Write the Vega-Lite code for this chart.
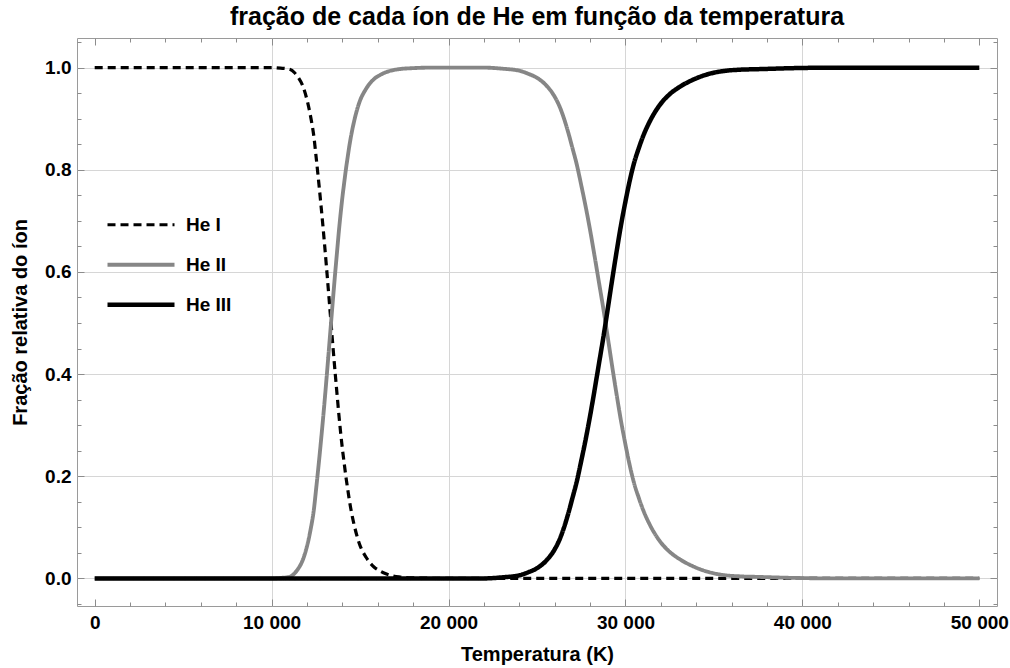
{
  "$schema": "https://vega.github.io/schema/vega-lite/v6.json",
  "width": 920,
  "height": 568,
  "autosize": {"type": "none"},
  "padding": {"left": 77, "top": 38, "right": 13, "bottom": 62},
  "background": "white",
  "title": {"text": "fração de cada íon de He em função da temperatura", "font": "Liberation Sans", "fontSize": 25, "fontWeight": "bold", "color": "black", "anchor": "middle", "offset": 8},
  "config": {"view": {"stroke": "#9a9a9a", "strokeWidth": 1}, "font": "Liberation Sans"},
  "data": {"values": [
    {"ion":"He I","T":0,"f":1},{"ion":"He I","T":2000,"f":1},{"ion":"He I","T":4000,"f":1},{"ion":"He I","T":6000,"f":1},{"ion":"He I","T":8000,"f":1},{"ion":"He I","T":10000,"f":1},{"ion":"He I","T":10500,"f":0.999},{"ion":"He I","T":11000,"f":0.997},{"ion":"He I","T":11300,"f":0.99},{"ion":"He I","T":11500,"f":0.981},{"ion":"He I","T":11750,"f":0.965},{"ion":"He I","T":12000,"f":0.937},{"ion":"He I","T":12200,"f":0.905},{"ion":"He I","T":12400,"f":0.862},{"ion":"He I","T":12500,"f":0.83},{"ion":"He I","T":12600,"f":0.797},{"ion":"He I","T":12700,"f":0.763},{"ion":"He I","T":12800,"f":0.727},{"ion":"He I","T":12900,"f":0.69},{"ion":"He I","T":13000,"f":0.651},{"ion":"He I","T":13100,"f":0.61},{"ion":"He I","T":13200,"f":0.568},{"ion":"He I","T":13300,"f":0.525},{"ion":"He I","T":13400,"f":0.482},{"ion":"He I","T":13500,"f":0.44},{"ion":"He I","T":13600,"f":0.399},{"ion":"He I","T":13700,"f":0.36},{"ion":"He I","T":13800,"f":0.321},{"ion":"He I","T":13900,"f":0.286},{"ion":"He I","T":14000,"f":0.254},{"ion":"He I","T":14100,"f":0.226},{"ion":"He I","T":14200,"f":0.199},{"ion":"He I","T":14300,"f":0.175},{"ion":"He I","T":14400,"f":0.152},{"ion":"He I","T":14500,"f":0.132},{"ion":"He I","T":14670,"f":0.104},{"ion":"He I","T":14950,"f":0.069},{"ion":"He I","T":15330,"f":0.042},{"ion":"He I","T":15800,"f":0.022},{"ion":"He I","T":16100,"f":0.015},{"ion":"He I","T":16460,"f":0.009},{"ion":"He I","T":17200,"f":0.003},{"ion":"He I","T":18000,"f":0.001},{"ion":"He I","T":19000,"f":0.0003},{"ion":"He I","T":20000,"f":0},{"ion":"He I","T":25000,"f":0},{"ion":"He I","T":30000,"f":0},{"ion":"He I","T":35000,"f":0},{"ion":"He I","T":40000,"f":0},{"ion":"He I","T":45000,"f":0},{"ion":"He I","T":50000,"f":0},
    {"ion":"He II","T":0,"f":0},{"ion":"He II","T":5000,"f":0},{"ion":"He II","T":10000,"f":0},{"ion":"He II","T":10500,"f":0.001},{"ion":"He II","T":11000,"f":0.003},{"ion":"He II","T":11300,"f":0.01},{"ion":"He II","T":11500,"f":0.019},{"ion":"He II","T":11750,"f":0.035},{"ion":"He II","T":12000,"f":0.063},{"ion":"He II","T":12200,"f":0.095},{"ion":"He II","T":12400,"f":0.138},{"ion":"He II","T":12500,"f":0.17},{"ion":"He II","T":12600,"f":0.203},{"ion":"He II","T":12700,"f":0.237},{"ion":"He II","T":12800,"f":0.273},{"ion":"He II","T":12900,"f":0.31},{"ion":"He II","T":13000,"f":0.349},{"ion":"He II","T":13100,"f":0.39},{"ion":"He II","T":13200,"f":0.432},{"ion":"He II","T":13300,"f":0.475},{"ion":"He II","T":13400,"f":0.518},{"ion":"He II","T":13500,"f":0.56},{"ion":"He II","T":13600,"f":0.601},{"ion":"He II","T":13700,"f":0.64},{"ion":"He II","T":13800,"f":0.679},{"ion":"He II","T":13900,"f":0.714},{"ion":"He II","T":14000,"f":0.746},{"ion":"He II","T":14100,"f":0.774},{"ion":"He II","T":14200,"f":0.801},{"ion":"He II","T":14300,"f":0.825},{"ion":"He II","T":14400,"f":0.848},{"ion":"He II","T":14500,"f":0.868},{"ion":"He II","T":14670,"f":0.896},{"ion":"He II","T":14950,"f":0.931},{"ion":"He II","T":15330,"f":0.958},{"ion":"He II","T":15800,"f":0.978},{"ion":"He II","T":16100,"f":0.985},{"ion":"He II","T":16460,"f":0.991},{"ion":"He II","T":17200,"f":0.997},{"ion":"He II","T":18000,"f":0.999},{"ion":"He II","T":19000,"f":1},{"ion":"He II","T":20000,"f":1},{"ion":"He II","T":21000,"f":1},{"ion":"He II","T":22000,"f":1},{"ion":"He II","T":23000,"f":0.998},{"ion":"He II","T":24000,"f":0.994},{"ion":"He II","T":24500,"f":0.988},{"ion":"He II","T":25000,"f":0.98},{"ion":"He II","T":25500,"f":0.966},{"ion":"He II","T":26000,"f":0.943},{"ion":"He II","T":26250,"f":0.926},{"ion":"He II","T":26500,"f":0.903},{"ion":"He II","T":26750,"f":0.875},{"ion":"He II","T":27000,"f":0.843},{"ion":"He II","T":27250,"f":0.81},{"ion":"He II","T":27500,"f":0.77},{"ion":"He II","T":27750,"f":0.728},{"ion":"He II","T":28000,"f":0.682},{"ion":"He II","T":28250,"f":0.632},{"ion":"He II","T":28500,"f":0.58},{"ion":"He II","T":28750,"f":0.528},{"ion":"He II","T":29000,"f":0.472},{"ion":"He II","T":29250,"f":0.415},{"ion":"He II","T":29500,"f":0.36},{"ion":"He II","T":29750,"f":0.308},{"ion":"He II","T":30000,"f":0.262},{"ion":"He II","T":30250,"f":0.22},{"ion":"He II","T":30500,"f":0.185},{"ion":"He II","T":30750,"f":0.158},{"ion":"He II","T":31000,"f":0.134},{"ion":"He II","T":31350,"f":0.107},{"ion":"He II","T":31900,"f":0.075},{"ion":"He II","T":32500,"f":0.052},{"ion":"He II","T":33050,"f":0.038},{"ion":"He II","T":33800,"f":0.024},{"ion":"He II","T":34750,"f":0.012},{"ion":"He II","T":35700,"f":0.006},{"ion":"He II","T":36500,"f":0.004},{"ion":"He II","T":37500,"f":0.003},{"ion":"He II","T":39500,"f":0.001},{"ion":"He II","T":42000,"f":0},{"ion":"He II","T":46000,"f":0},{"ion":"He II","T":50000,"f":0},
    {"ion":"He III","T":0,"f":0},{"ion":"He III","T":5000,"f":0},{"ion":"He III","T":10000,"f":0},{"ion":"He III","T":15000,"f":0},{"ion":"He III","T":20000,"f":0},{"ion":"He III","T":22000,"f":0},{"ion":"He III","T":23000,"f":0.002},{"ion":"He III","T":24000,"f":0.006},{"ion":"He III","T":24500,"f":0.012},{"ion":"He III","T":25000,"f":0.02},{"ion":"He III","T":25500,"f":0.034},{"ion":"He III","T":26000,"f":0.057},{"ion":"He III","T":26250,"f":0.074},{"ion":"He III","T":26500,"f":0.097},{"ion":"He III","T":26750,"f":0.125},{"ion":"He III","T":27000,"f":0.157},{"ion":"He III","T":27250,"f":0.19},{"ion":"He III","T":27500,"f":0.23},{"ion":"He III","T":27750,"f":0.272},{"ion":"He III","T":28000,"f":0.318},{"ion":"He III","T":28250,"f":0.368},{"ion":"He III","T":28500,"f":0.42},{"ion":"He III","T":28750,"f":0.472},{"ion":"He III","T":29000,"f":0.528},{"ion":"He III","T":29250,"f":0.585},{"ion":"He III","T":29500,"f":0.64},{"ion":"He III","T":29750,"f":0.692},{"ion":"He III","T":30000,"f":0.738},{"ion":"He III","T":30250,"f":0.78},{"ion":"He III","T":30500,"f":0.815},{"ion":"He III","T":30750,"f":0.842},{"ion":"He III","T":31000,"f":0.866},{"ion":"He III","T":31350,"f":0.893},{"ion":"He III","T":31900,"f":0.925},{"ion":"He III","T":32500,"f":0.948},{"ion":"He III","T":33050,"f":0.962},{"ion":"He III","T":33800,"f":0.976},{"ion":"He III","T":34750,"f":0.988},{"ion":"He III","T":35700,"f":0.994},{"ion":"He III","T":36500,"f":0.996},{"ion":"He III","T":37500,"f":0.997},{"ion":"He III","T":39500,"f":0.999},{"ion":"He III","T":42000,"f":1},{"ion":"He III","T":46000,"f":1},{"ion":"He III","T":50000,"f":1}
  ]},
  "layer": [
    {
      "mark": {"type": "point", "opacity": 0},
      "encoding": {
        "x": {"field": "T", "type": "quantitative", "scale": {"domain": [-1000, 51000], "nice": false, "zero": false},
          "axis": {"orient": "bottom", "values": [10000, 20000, 30000, 40000], "grid": true, "gridColor": "#d6d6d6", "gridWidth": 1, "ticks": false, "labels": false, "domain": false, "title": null}},
        "y": {"field": "f", "type": "quantitative", "scale": {"domain": [-0.054, 1.058], "nice": false, "zero": false},
          "axis": {"orient": "left", "values": [0, 0.2, 0.4, 0.6, 0.8, 1.0], "grid": true, "gridColor": "#d6d6d6", "gridWidth": 1, "ticks": false, "labels": false, "domain": false, "title": null}}
      }
    },
    {
      "mark": {"type": "line", "interpolate": "monotone"},
      "encoding": {
        "x": {"field": "T", "type": "quantitative", "scale": {"domain": [-1000, 51000], "nice": false, "zero": false},
          "axis": {"orient": "bottom", "values": [0, 10000, 20000, 30000, 40000, 50000], "grid": false, "domain": false, "tickColor": "#8c8c8c", "tickSize": -7, "labelExpr": "replace(format(datum.value, ','), ',', ' ')", "labelFont": "Liberation Sans", "labelFontSize": 19, "labelFontWeight": "bold", "labelColor": "black", "labelPadding": 14, "title": "Temperatura (K)", "titleFont": "Liberation Sans", "titleFontSize": 20, "titleFontWeight": "bold", "titleColor": "black", "titlePadding": 12}},
        "y": {"field": "f", "type": "quantitative", "scale": {"domain": [-0.054, 1.058], "nice": false, "zero": false},
          "axis": {"orient": "left", "values": [0, 0.2, 0.4, 0.6, 0.8, 1.0], "grid": false, "domain": false, "tickColor": "#8c8c8c", "tickSize": -7, "format": ".1f", "labelFont": "Liberation Sans", "labelFontSize": 19, "labelFontWeight": "bold", "labelColor": "black", "labelPadding": 13, "title": "Fração relativa do íon", "titleFont": "Liberation Sans", "titleFontSize": 20, "titleFontWeight": "bold", "titleColor": "black", "titlePadding": 14}},
        "color": {"field": "ion", "type": "nominal", "scale": {"domain": ["He I", "He II", "He III"], "range": ["#000000", "#868686", "#000000"]},
          "legend": {"orient": "none", "legendX": 28, "legendY": 168, "title": null, "symbolType": "stroke", "symbolSize": 4489, "clipHeight": 37.5, "labelFont": "Liberation Sans", "labelFontSize": 19, "labelFontWeight": "bold", "labelColor": "black", "labelOffset": 9, "rowPadding": 2, "padding": 0}},
        "strokeDash": {"field": "ion", "type": "nominal", "scale": {"domain": ["He I", "He II", "He III"], "range": [[8, 5], [1, 0], [1, 0]]}},
        "strokeWidth": {"field": "ion", "type": "nominal", "scale": {"domain": ["He I", "He II", "He III"], "range": [3.2, 4.5, 3.2]}}
      }
    },
    {
      "mark": {"type": "point", "opacity": 0},
      "encoding": {
        "x": {"field": "T", "type": "quantitative", "scale": {"domain": [-1000, 51000], "nice": false, "zero": false},
          "axis": {"orient": "top", "values": [0, 10000, 20000, 30000, 40000, 50000], "grid": false, "domain": false, "tickColor": "#8c8c8c", "tickSize": -7, "labels": false, "title": null}},
        "y": {"field": "f", "type": "quantitative", "scale": {"domain": [-0.054, 1.058], "nice": false, "zero": false},
          "axis": {"orient": "right", "values": [0, 0.2, 0.4, 0.6, 0.8, 1.0], "grid": false, "domain": false, "tickColor": "#8c8c8c", "tickSize": -7, "labels": false, "title": null}}
      }
    },
    {
      "mark": {"type": "point", "opacity": 0},
      "encoding": {
        "x": {"field": "T", "type": "quantitative", "scale": {"domain": [-1000, 51000], "nice": false, "zero": false},
          "axis": {"orient": "bottom", "values": [2000, 4000, 6000, 8000, 12000, 14000, 16000, 18000, 22000, 24000, 26000, 28000, 32000, 34000, 36000, 38000, 42000, 44000, 46000, 48000], "grid": false, "domain": false, "tickColor": "#8c8c8c", "tickSize": -4, "labels": false, "title": null}},
        "y": {"field": "f", "type": "quantitative", "scale": {"domain": [-0.054, 1.058], "nice": false, "zero": false},
          "axis": {"orient": "left", "values": [-0.05, 0.05, 0.1, 0.15, 0.25, 0.3, 0.35, 0.45, 0.5, 0.55, 0.65, 0.7, 0.75, 0.85, 0.9, 0.95, 1.05], "grid": false, "domain": false, "tickColor": "#8c8c8c", "tickSize": -4, "labels": false, "title": null}}
      }
    },
    {
      "mark": {"type": "point", "opacity": 0},
      "encoding": {
        "x": {"field": "T", "type": "quantitative", "scale": {"domain": [-1000, 51000], "nice": false, "zero": false},
          "axis": {"orient": "top", "values": [2000, 4000, 6000, 8000, 12000, 14000, 16000, 18000, 22000, 24000, 26000, 28000, 32000, 34000, 36000, 38000, 42000, 44000, 46000, 48000], "grid": false, "domain": false, "tickColor": "#8c8c8c", "tickSize": -4, "labels": false, "title": null}},
        "y": {"field": "f", "type": "quantitative", "scale": {"domain": [-0.054, 1.058], "nice": false, "zero": false},
          "axis": {"orient": "right", "values": [-0.05, 0.05, 0.1, 0.15, 0.25, 0.3, 0.35, 0.45, 0.5, 0.55, 0.65, 0.7, 0.75, 0.85, 0.9, 0.95, 1.05], "grid": false, "domain": false, "tickColor": "#8c8c8c", "tickSize": -4, "labels": false, "title": null}}
      }
    }
  ],
  "resolve": {"axis": {"x": "independent", "y": "independent"}}
}
